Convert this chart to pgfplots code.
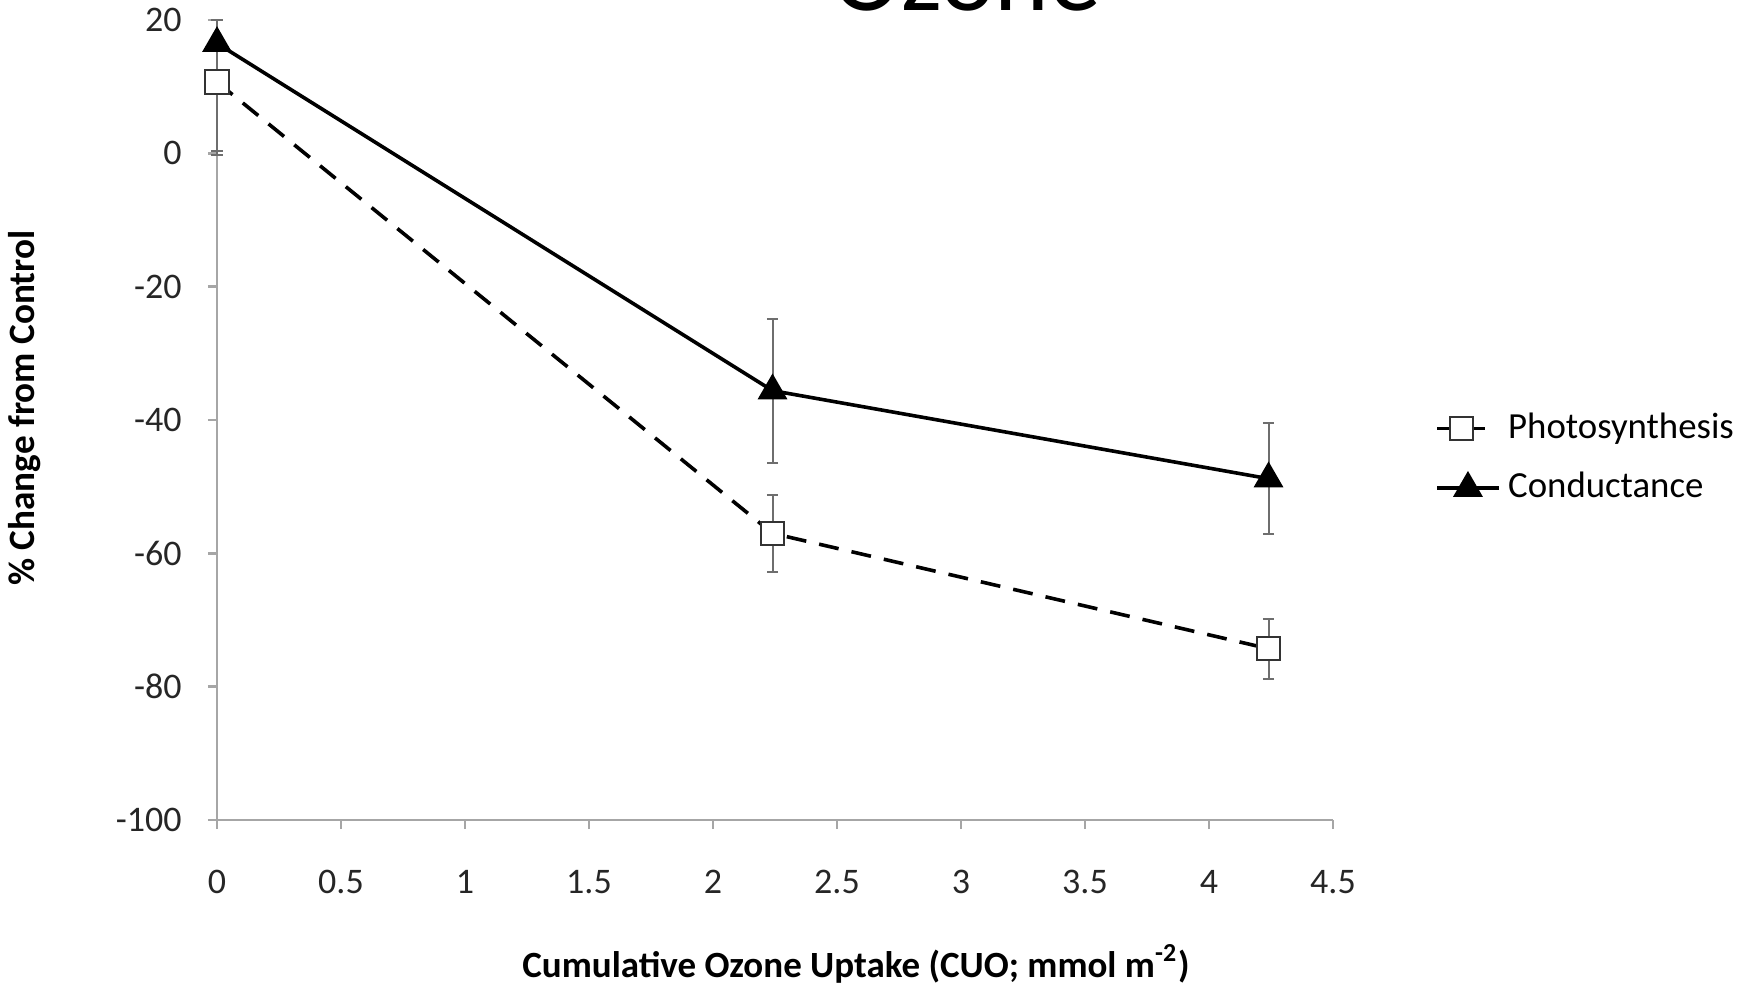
\documentclass[border=0pt]{standalone}
\usepackage{pgfplots}
\pgfplotsset{compat=1.18}
\usepackage{fontspec}
\setmainfont{Carlito}
\definecolor{axisgray}{HTML}{A6A6A6}
\definecolor{errgray}{HTML}{6E6E6E}
\pgfplotsset{
  photolegend/.style={legend image code/.code={\draw[mark repeat=2,mark phase=2,##1, dash pattern=on 3pt off 6pt on 3pt off 6pt] plot coordinates {(0pt,0pt) (6pt,0pt) (12pt,0pt)};}},
  condlegend/.style={legend image code/.code={\draw[mark repeat=2,mark phase=2,##1] plot coordinates {(0pt,0pt) (7.7pt,0pt) (15.4pt,0pt)};}},
}
\begin{document}
\begin{tikzpicture}
\begin{axis}[
  scale only axis, width=279pt, height=200pt,
  xmin=0, xmax=4.5, ymin=-100, ymax=20,
  axis lines=left,
  axis line style={-, draw=axisgray, line width=0.6pt},
  xtick={0,0.5,1,1.5,2,2.5,3,3.5,4,4.5},
  ytick={-100,-80,-60,-40,-20,0,20},
  tick align=outside, major tick length=2.3pt,
  tick style={axisgray, line width=0.6pt},
  clip=false,
  /pgf/number format/assume math mode=true,
  ticklabel style={font=\fontsize{9}{10}\selectfont, text=black!85},
  xticklabel style={yshift=-6.7pt},
  yticklabel style={xshift=-3pt},
  xlabel={\textbf{Cumulative Ozone Uptake (CUO; mmol m\textsuperscript{-2})}},
  ylabel={\textbf{\% Change from Control}},
  xlabel style={at={(rel axis cs:0.5726,-0.18)}, anchor=center, font=\fontsize{9.25}{10}\selectfont},
  ylabel style={at={(rel axis cs:-0.172,0.515)}, anchor=center, font=\fontsize{9.3}{10}\selectfont},
  legend style={at={(1.091,0.452)}, anchor=west, draw=none, fill=none,
    font=\fontsize{9.2}{10}\selectfont, inner sep=0pt, row sep=3pt, nodes={inner xsep=1.9pt}},
  legend cell align=left,
  reverse legend,
]
\addplot[black, line width=0.9pt, mark=triangle*, mark size=3.4pt, mark options={fill=black, solid},
  condlegend,
  error bars/.cd, y dir=both, y explicit,
  error bar style={line width=0.5pt, draw=errgray, solid},
  error mark options={rotate=90, mark size=1.4pt, line width=0.5pt, draw=errgray}]
coordinates {
  (0,16.5) += (0,3.5) -= (0,16.8)
  (2.24,-35.6) +- (0,10.8)
  (4.24,-48.8) +- (0,8.3)
};
\addlegendentry{Conductance}
\addplot[black, line width=0.9pt, dash pattern=on 5pt off 3.3pt, mark=square*, mark size=2.9pt,
  mark options={fill=white, solid, line width=0.5pt, draw=black!80},
  photolegend,
  error bars/.cd, y dir=both, y explicit,
  error bar style={line width=0.5pt, draw=errgray, solid},
  error mark options={rotate=90, mark size=1.4pt, line width=0.5pt, draw=errgray}]
coordinates {
  (0,10.7) += (0,9.3) -= (0,10.4)
  (2.24,-57.0) +- (0,5.8)
  (4.24,-74.3) +- (0,4.5)
};
\addlegendentry{Photosynthesis}
\end{axis}
\node[font=\fontsize{26}{26}\selectfont, anchor=base] at (187.5pt,202.25pt) {Ozone};
\pgfresetboundingbox
\path[use as bounding box] (-54.25pt,-41.25pt) rectangle (384.25pt,205pt);
\end{tikzpicture}
\end{document}
